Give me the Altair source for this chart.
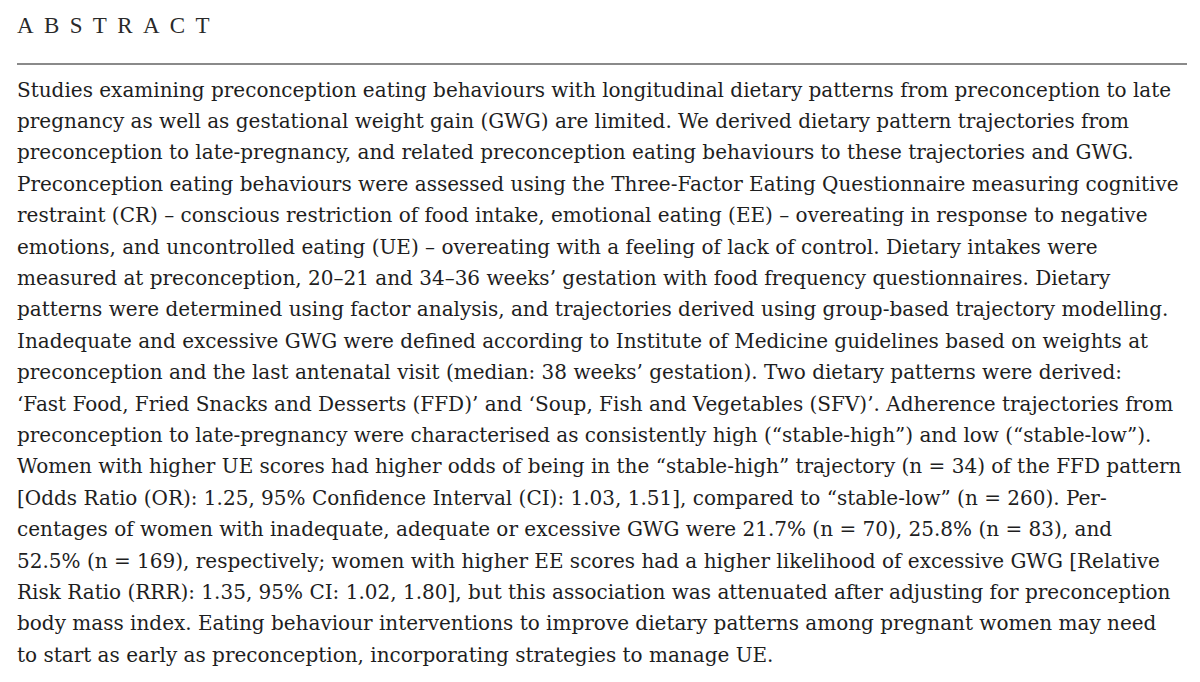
import altair as alt
import pandas as pd

title_text = ["A\u2005\u2009B\u2005\u2009S\u2005\u2009T\u2005\u2009R\u2005\u2009A\u2005\u2009C\u2005\u2009T"]

lines = [
    "Studies examining preconception eating behaviours with longitudinal dietary patterns from preconception to late",
    "pregnancy as well as gestational weight gain (GWG) are limited. We derived dietary pattern trajectories from",
    "preconception to late-pregnancy, and related preconception eating behaviours to these trajectories and GWG.",
    "Preconception eating behaviours were assessed using the Three-Factor Eating Questionnaire measuring cognitive",
    "restraint (CR) \u2013 conscious restriction of food intake, emotional eating (EE) \u2013 overeating in response to negative",
    "emotions, and uncontrolled eating (UE) \u2013 overeating with a feeling of lack of control. Dietary intakes were",
    "measured at preconception, 20\u201321 and 34\u201336 weeks\u2019 gestation with food frequency questionnaires. Dietary",
    "patterns were determined using factor analysis, and trajectories derived using group-based trajectory modelling.",
    "Inadequate and excessive GWG were defined according to Institute of Medicine guidelines based on weights at",
    "preconception and the last antenatal visit (median: 38 weeks\u2019 gestation). Two dietary patterns were derived:",
    "\u2018Fast Food, Fried Snacks and Desserts (FFD)\u2019 and \u2018Soup, Fish and Vegetables (SFV)\u2019. Adherence trajectories from",
    "preconception to late-pregnancy were characterised as consistently high (\u201cstable-high\u201d) and low (\u201cstable-low\u201d).",
    "Women with higher UE scores had higher odds of being in the \u201cstable-high\u201d trajectory (n = 34) of the FFD pattern",
    "[Odds Ratio (OR): 1.25, 95% Confidence Interval (CI): 1.03, 1.51], compared to \u201cstable-low\u201d (n = 260). Per-",
    "centages of women with inadequate, adequate or excessive GWG were 21.7% (n = 70), 25.8% (n = 83), and",
    "52.5% (n = 169), respectively; women with higher EE scores had a higher likelihood of excessive GWG [Relative",
    "Risk Ratio (RRR): 1.35, 95% CI: 1.02, 1.80], but this association was attenuated after adjusting for preconception",
    "body mass index. Eating behaviour interventions to improve dietary patterns among pregnant women may need",
    "to start as early as preconception, incorporating strategies to manage UE.",
]
rows = list(range(len(lines)))

W, H = 1184, 666
base_y = 88.5
step = 31.4
d0 = -base_y / step
d1 = (H - base_y) / step

df = pd.DataFrame({"row": rows, "text": lines})

body = alt.Chart(df).mark_text(
    align="left", baseline="alphabetic", font="DejaVu Serif",
    fontSize=20, color="#1e1e1e"
).encode(
    x=alt.value(9),
    y=alt.Y("row:Q", scale=alt.Scale(domain=[d0, d1], reverse=True, nice=False, zero=False), axis=None),
    text="text:N",
)

title = alt.Chart(pd.DataFrame({"t": title_text})).mark_text(
    align="left", baseline="alphabetic", font="Liberation Serif",
    fontSize=23, color="#2a2a2a"
).encode(x=alt.value(9), y=alt.value(25), text="t:N")

rule = alt.Chart(pd.DataFrame({"a": [0]})).mark_rule(
    color="#8a8a8a", strokeWidth=2
).encode(x=alt.value(9), x2=alt.value(1179), y=alt.value(56))

chart = alt.layer(title, rule, body).properties(
    width=W, height=H, padding=0,
    autosize=alt.AutoSizeParams(type="fit", contains="padding"),
    background="white",
).configure_view(strokeWidth=0)

chart.save("out.html", embed_options={"renderer": "svg", "actions": False})
